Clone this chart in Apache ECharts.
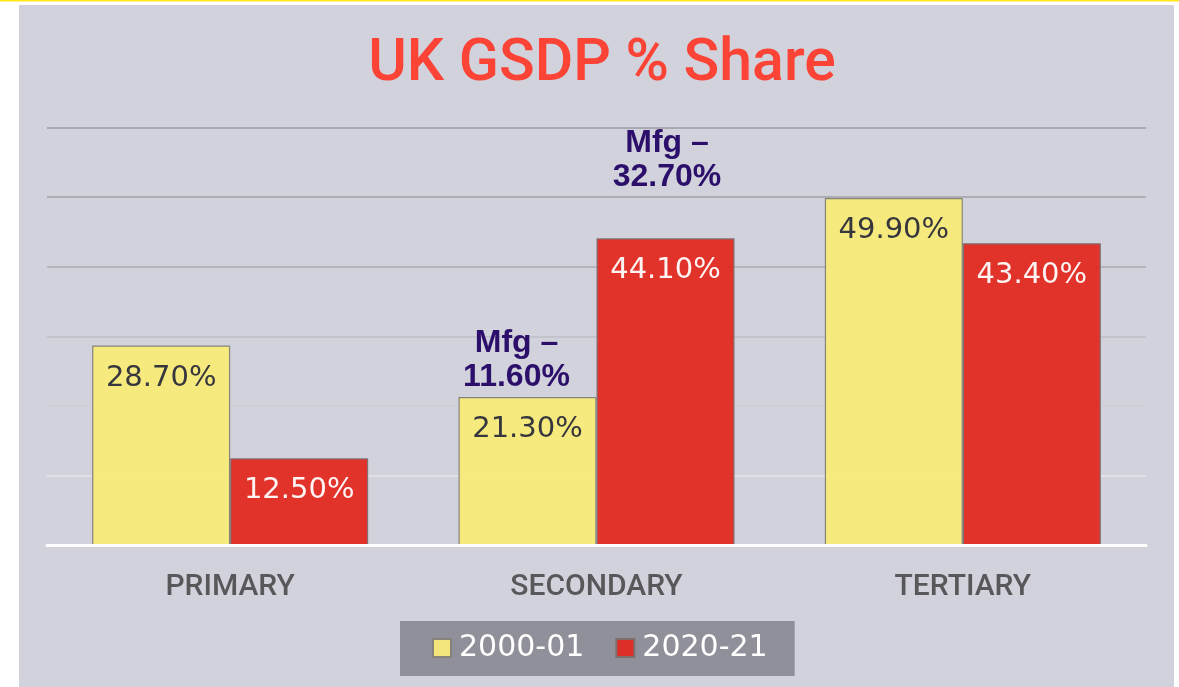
<!DOCTYPE html>
<html>
<head>
<meta charset="utf-8">
<script src="https://cdn.jsdelivr.net/npm/echarts@6/dist/echarts.min.js"></script>
<style>
html,body{margin:0;padding:0;background:#ffffff;}
#chart{width:1179px;height:687px;}
</style>
</head>
<body>
<div id="chart"></div>
<script>
// ---- data ----
var categories = ['PRIMARY', 'SECONDARY', 'TERTIARY'];
var seriesNames = ['2000-01', '2020-21'];
var values2000 = [28.7, 21.3, 49.9];
var values2020 = [12.5, 44.1, 43.4];
var mfgCategory = 'SECONDARY';
var mfg2000 = 11.6;
var mfg2020 = 32.7;
var titleText = 'UK GSDP % Share';

var chart = echarts.init(document.getElementById('chart'), null, {renderer: 'canvas'});

function pct(v) { return v.toFixed(2) + '%'; }

var mfgLabelStyle = {
  show: true,
  position: 'inside',
  color: '#2c0f6a',
  fontFamily: 'Arial, "Liberation Sans", sans-serif',
  fontWeight: 'bold',
  fontSize: 32,
  lineHeight: 34,
  align: 'center'
};

var option = {
  backgroundColor: '#ffffff',
  animation: false,
  graphic: [
    { type: 'rect', z: -10, silent: true, shape: { x: 19, y: 5, width: 1155, height: 682 }, style: { fill: '#d1d2db' } },
    { type: 'rect', z: -10, silent: true, shape: { x: 0, y: 0, width: 1179, height: 1.5 }, style: { fill: '#ffe81a' } }
  ],
  title: {
    text: titleText,
    left: 597,
    top: 31,
    textAlign: 'center',
    textStyle: { color: '#fb4336', fontFamily: 'Roboto', fontWeight: 500, fontSize: 59 }
  },
  legend: {
    data: seriesNames,
    left: 400,
    top: 621,
    backgroundColor: '#8f9099',
    padding: [12, 27, 13, 32],
    itemWidth: 18,
    itemHeight: 18,
    itemGap: 31,
    icon: 'rect',
    textStyle: { color: '#ffffff', fontFamily: 'DejaVu Sans', fontSize: 30, lineHeight: 30, padding: [0, 0, 0, 3] }
  },
  grid: { left: 47, right: 33, top: 127.6, bottom: 141.6, containLabel: false },
  xAxis: {
    type: 'category',
    data: categories,
    axisTick: { show: false },
    axisLine: { show: true, lineStyle: { color: '#ffffff', width: 3 } },
    axisLabel: { color: '#58585a', fontFamily: 'Roboto', fontWeight: 500, fontSize: 30, margin: 27 },
    z: 5
  },
  yAxis: {
    type: 'value',
    min: 0,
    max: 60,
    interval: 10,
    axisLabel: { show: false },
    axisLine: { show: false },
    axisTick: { show: false },
    splitLine: {
      show: true,
      lineStyle: {
        width: 1.5,
        color: ['#ffffff', '#e4e4ea', '#cdcdd5', '#bebec6', '#ababb4', '#a0a0a9', '#9a9aa3']
      }
    }
  },
  series: [
    {
      name: seriesNames[0],
      type: 'bar',
      data: values2000,
      barWidth: 138,
      barGap: '0%',
      itemStyle: { color: '#f8ea79', borderColor: '#828078', borderWidth: 1.2, opacity: 0.95 },
      label: {
        show: true, position: 'insideTop', distance: 18,
        color: '#2b2d3a', fontFamily: 'DejaVu Sans', fontSize: 29,
        formatter: function (p) { return pct(p.value); }
      },
      markPoint: {
        symbol: 'circle', symbolSize: 0,
        label: mfgLabelStyle,
        data: [{ coord: [mfgCategory, values2000[1]], value: mfg2000,
                 label: { offset: [-11, -37], formatter: function (p) { return 'Mfg \u2013\n' + pct(p.value); } } }]
      }
    },
    {
      name: seriesNames[1],
      type: 'bar',
      data: values2020,
      barWidth: 138,
      barGap: '0%',
      itemStyle: { color: '#e22a21', borderColor: '#7c6f70', borderWidth: 1.2, opacity: 0.95 },
      label: {
        show: true, position: 'insideTop', distance: 18,
        color: '#ffffff', fontFamily: 'DejaVu Sans', fontSize: 29,
        formatter: function (p) { return pct(p.value); }
      },
      markPoint: {
        symbol: 'circle', symbolSize: 0,
        label: mfgLabelStyle,
        data: [{ coord: [mfgCategory, values2020[1]], value: mfg2020,
                 label: { offset: [1.5, -78], formatter: function (p) { return 'Mfg \u2013\n' + pct(p.value); } } }]
      }
    }
  ]
};

chart.setOption(option);
</script>
</body>
</html>
